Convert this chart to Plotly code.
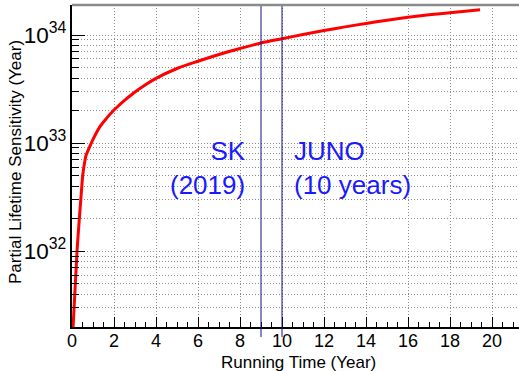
import plotly.graph_objects as go

# Data
run_time = [0.04, 0.24, 0.35, 0.43, 0.51, 0.6, 0.67, 0.85, 1.0, 1.33, 1.65, 2.0, 2.5, 3.0,
            3.5, 4.0, 5.0, 6.0, 7.0, 8.0, 9.0, 10.0, 11.0, 12.0, 13.0, 14.0, 15.0, 16.0,
            17.0, 18.0, 19.43]
sensitivity = [1.8e31, 1.0e32, 2.0e32, 3.2e32, 5.0e32, 6.6e32, 7.7e32, 9.3e32, 1.08e33,
               1.42e33, 1.7e33, 2.02e33, 2.48e33, 2.97e33, 3.47e33, 3.97e33, 4.9e33,
               5.72e33, 6.6e33, 7.5e33, 8.45e33, 9.25e33, 1.01e34, 1.1e34, 1.19e34, 1.28e34,
               1.37e34, 1.46e34, 1.54e34, 1.61e34, 1.71e34]
marker_years = [9, 10]
label_texts = ["SK<br>(2019)", "JUNO<br>(10 years)"]

W, H = 519, 371
L, R, T, B = 72, 0, 5, 44
pw, ph = W - L - R, H - T - B

def px_x(x):
    return (x - L) / pw

def px_y(y):
    return (H - B - y) / ph

fig = go.Figure()
fig.add_trace(go.Scatter(x=run_time, y=sensitivity, mode="lines",
                         line=dict(color="#ff0000", width=3, shape="spline", smoothing=0.8),
                         showlegend=False))

shapes = []
for yr in marker_years:
    shapes.append(dict(type="line", xref="x", yref="paper", x0=yr, x1=yr,
                       y0=-0.031, y1=1, line=dict(color="#10108a", width=1)))
shapes.append(dict(type="line", xref="paper", yref="paper", x0=0, x1=1, y0=1, y1=1,
                   line=dict(color="#8a8a8a", width=2.5)))

font_main = "Liberation Sans, Arial, Helvetica, sans-serif"
annotations = [
    dict(text=label_texts[0], xref="paper", yref="paper", x=px_x(248), y=px_y(168),
         xanchor="right", yanchor="middle", showarrow=False, align="right",
         font=dict(family=font_main, size=26, color="#1a1aff")),
    dict(text=label_texts[1], xref="paper", yref="paper", x=px_x(292), y=px_y(168),
         xanchor="left", yanchor="middle", showarrow=False, align="left",
         font=dict(family=font_main, size=26, color="#1a1aff")),
    dict(text="Partial Lifetime Sensitivity (Year)", xref="paper", yref="paper",
         x=px_x(15), y=px_y(162), xanchor="center", yanchor="middle", textangle=-90,
         showarrow=False, font=dict(family=font_main, size=17, color="black")),
    dict(text="Running Time (Year)", xref="paper", yref="paper",
         x=px_x(378), y=px_y(362), xanchor="right", yanchor="middle",
         showarrow=False, font=dict(family=font_main, size=17, color="black")),
]

gridc = "#8f8f8f"
gdash = "1px,2px"

fig.update_layout(
    width=W, height=H,
    margin=dict(l=L, r=R, t=T, b=B),
    paper_bgcolor="white", plot_bgcolor="white",
    shapes=shapes, annotations=annotations,
    font=dict(family=font_main, color="black"),
    xaxis=dict(range=[0, pw / 21.0], dtick=2, tick0=0, ticks="inside", ticklen=10,
               tickcolor="black", showline=True, linecolor="black", linewidth=2,
               tickfont=dict(size=18), zeroline=False, ticklabelstandoff=-4,
               showgrid=True, gridcolor=gridc, griddash=gdash, gridwidth=1,
               minor=dict(dtick=0.5, ticks="inside", ticklen=5, tickcolor="black",
                          showgrid=False)),
    yaxis=dict(type="log", range=[31.297, 34.278], dtick=1, ticks="inside", ticklen=13,
               tickcolor="black", showline=True, linecolor="black", linewidth=2,
               exponentformat="power", tickfont=dict(size=18), zeroline=False,
               showgrid=True, gridcolor=gridc, griddash=gdash, gridwidth=1,
               minor=dict(dtick="D1", ticks="inside", ticklen=7, tickcolor="black",
                          showgrid=True, gridcolor=gridc, griddash=gdash)),
)

fig.write_html("out.html")
